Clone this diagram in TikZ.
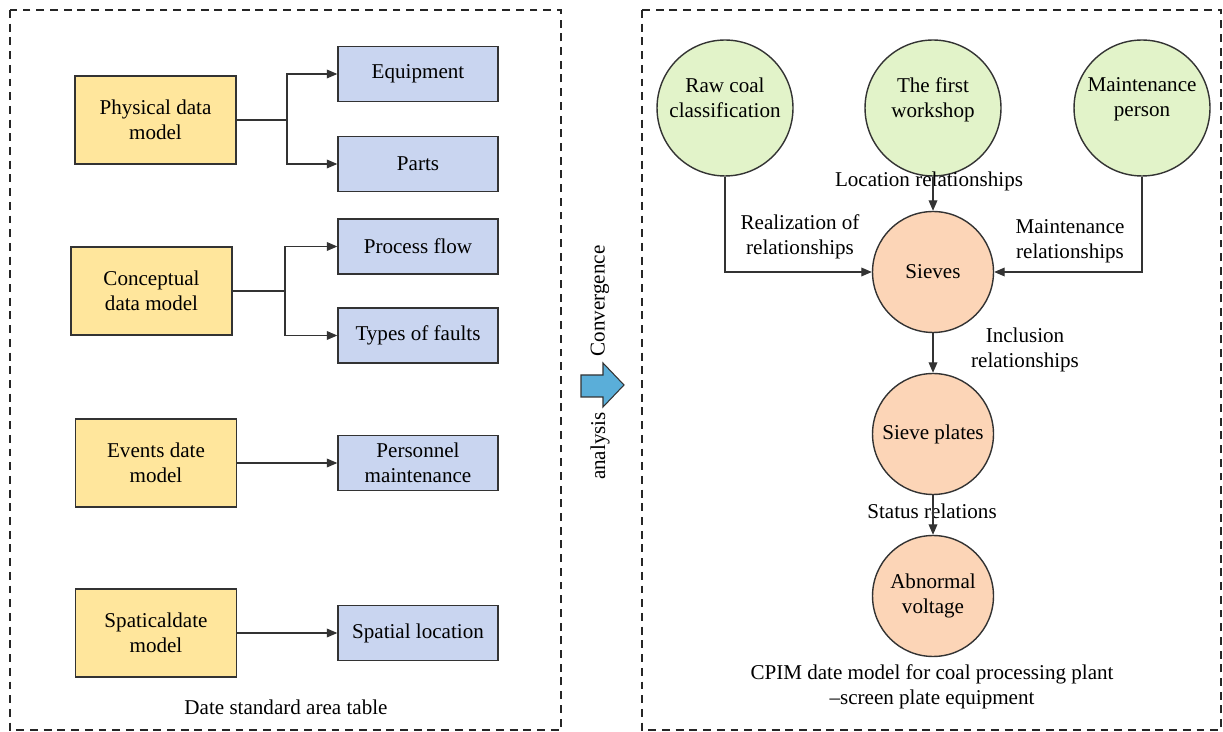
\documentclass[tikz,border=0pt]{standalone}
\usepackage{fontspec}
\setmainfont{Liberation Serif}
\usepackage{tikz}
\usetikzlibrary{arrows.meta}

\definecolor{modelfill}{HTML}{FFE69C}
\definecolor{itemfill}{HTML}{C9D5F0}
\definecolor{sourcefill}{HTML}{E2F3C9}
\definecolor{targetfill}{HTML}{FCD5B7}
\definecolor{flowblue}{HTML}{5AAED9}
\definecolor{linegray}{HTML}{333333}

\begin{document}
\begin{tikzpicture}[x=0.02cm, y=-0.02cm, font=\fontsize{12}{14.2}\selectfont,
    modelbox/.style={rectangle, draw=linegray, line width=0.8pt, fill=modelfill,
                     minimum width=3.22cm, minimum height=1.76cm, align=center},
    itembox/.style={rectangle, draw=linegray, line width=0.8pt, fill=itemfill,
                    minimum width=3.2cm, minimum height=1.1cm, align=center, inner sep=1pt},
    source/.style={circle, draw=linegray, line width=0.8pt, fill=sourcefill,
                   minimum size=2.72cm, inner sep=0pt, align=center},
    target/.style={circle, draw=linegray, line width=0.8pt, fill=targetfill,
                   minimum size=2.42cm, inner sep=0pt, align=center},
    rel/.style={align=center, inner sep=0pt}]
  \useasboundingbox (0,0) rectangle (1223,732);

  % dashed frames
  \begin{scope}[draw=black!85, line width=1.1pt, dash pattern=on 4.5pt off 3.3pt]
    \draw (10,10) rectangle (561,730);
    \draw (642,10) rectangle (1221,730);
  \end{scope}

  % left side: data models
  \node[modelbox] (phys) at (155.5,120) {Physical data\\model};
  \node[modelbox] (concept) at (151.5,291) {Conceptual\\data model};
  \node[modelbox] (events) at (156,463) {Events date\\model};
  \node[modelbox] (spatial) at (156,633) {Spaticaldate\\model};

  \node[itembox] (equip) at (418,74) {Equipment};
  \node[itembox] (parts) at (418,164) {Parts};
  \node[itembox] (flow) at (418,246.5) {Process flow};
  \node[itembox] (faults) at (418,335.5) {Types of faults};
  \node[itembox] (person) at (418,463) {Personnel\\maintenance};
  \node[itembox] (location) at (418,633) {Spatial location};

  \node (lefttitle) at (286,707) {Date standard area table};

  \coordinate (physfork) at (287,120);
  \coordinate (conceptfork) at (285,291);

  \begin{scope}[>={Triangle[length=6pt,width=5pt]},
                every edge/.style={draw=linegray, line width=0.6pt}]
    \path [-] (phys) edge (physfork);
    \path [-] (concept) edge (conceptfork);
    \draw [->, linegray, line width=0.6pt] (physfork) |- (equip);
    \draw [->, linegray, line width=0.6pt] (physfork) |- (parts);
    \draw [->, linegray, line width=0.6pt] (conceptfork) |- (flow);
    \draw [->, linegray, line width=0.6pt] (conceptfork) |- (faults);
    \path [->] (events) edge (person);
    \path [->] (spatial) edge (location);
  \end{scope}

  % middle arrow
  \filldraw[fill=flowblue, draw=linegray, line width=0.6pt]
    (581,375) -- (603,375) -- (603,363) -- (624,385) -- (603,407) -- (603,397) -- (581,397) -- cycle;
  \node[rotate=90] (conv) at (600,301) {Convergence};
  \node[rotate=90] (anal) at (600,446) {analysis};

  % right side: CPIM model
  \node[source] (raw) at (725,108) {Raw coal\\classification\\[-2pt]\mbox{}};
  \node[source] (workshop) at (933,108) {The first\\workshop\\[-2pt]\mbox{}};
  \node[source] (maint) at (1142,108) {Maintenance\\person\\[-2pt]\mbox{}};

  \node[target] (sieves) at (933,272) {Sieves};
  \node[target] (plates) at (933,434) {Sieve plates};
  \node[target] (abnormal) at (933,596) {Abnormal\\voltage};

  \node[rel] (lbllocation) at (929,181) {Location relationships};
  \node[rel] (lblrealize) at (800,237) {Realization of\\relationships};
  \node[rel] (lblmaint) at (1070,241) {Maintenance\\relationships};
  \node[rel] (lblinclude) at (1025,350) {Inclusion\\relationships};
  \node[rel] (lblstatus) at (932,511) {Status relations};
  \node[rel] (caption) at (932,687) {CPIM date model for coal processing plant\\--screen plate equipment};

  \begin{scope}[>={Triangle[length=6pt,width=5pt]},
                every edge/.style={draw=linegray, line width=0.6pt}]
    \draw [->, linegray, line width=0.6pt] (raw) |- (sieves);
    \draw [->, linegray, line width=0.6pt] (maint) |- (sieves);
    \path [->] (workshop) edge (sieves);
    \path [->] (sieves) edge (plates);
    \path [->] (plates) edge (abnormal);
  \end{scope}
\end{tikzpicture}
\end{document}
